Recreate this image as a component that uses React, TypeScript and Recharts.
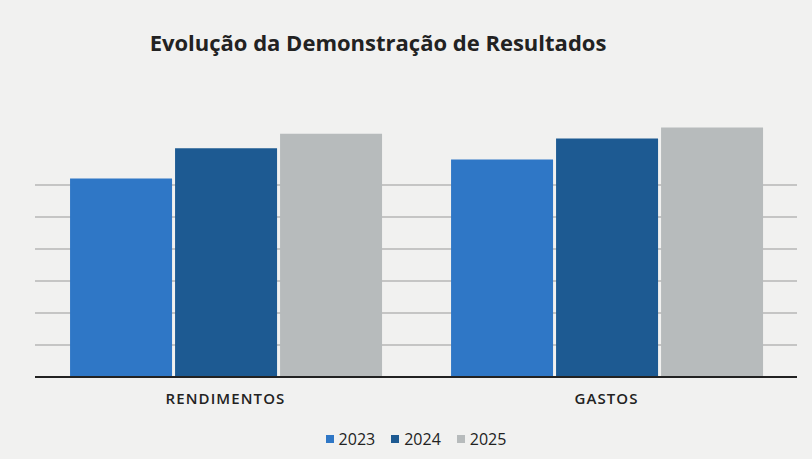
import { BarChart, Bar, XAxis, YAxis, CartesianGrid, Legend } from "recharts"

const categories = ["RENDIMENTOS", "GASTOS"]
const seriesNames = ["2023", "2024", "2025"]
const values2023 = [6.2, 6.8]
const values2024 = [7.15, 7.45]
const values2025 = [7.6, 7.8]
const gridTicks = [0, 1, 2, 3, 4, 5, 6]

const colors = ["#2f77c6", "#1d5a92", "#b7bbbc"]

const data = categories.map((name, i) => ({
  name,
  "2023": values2023[i],
  "2024": values2024[i],
  "2025": values2025[i],
}))

// legend drawn by hand so the spacing matches the scan
const renderLegend = () => (
  <div style={{ display: "flex", justifyContent: "center", alignItems: "center", gap: 16, fontSize: 16, color: "#222" }}>
    {seriesNames.map((s, i) => (
      <span key={s} style={{ display: "flex", alignItems: "center", gap: 5 }}>
        <span style={{ width: 8, height: 8, background: colors[i], display: "inline-block" }} />
        {s}
      </span>
    ))}
  </div>
)

export default function App() {
  return (
    <div style={{ position: "relative", width: 812, height: 459, background: "#f1f1f0", fontFamily: "'Open Sans', sans-serif" }}>
      <style>{"body{margin:0}"}</style>
      <div
        style={{
          position: "absolute",
          top: 27,
          left: 148,
          width: 460,
          textAlign: "center",
          fontSize: 22,
          fontWeight: 700,
          color: "#222",
          whiteSpace: "nowrap",
        }}
      >
        Evolução da Demonstração de Resultados
      </div>
      <BarChart
        width={812}
        height={459}
        data={data}
        margin={{ top: 121, right: 15, left: 35, bottom: 30 }}
        barCategoryGap="9.2%"
        barGap={3}
      >
        <CartesianGrid vertical={false} stroke="#999" horizontalValues={gridTicks} />
        <YAxis hide domain={[0, 8]} ticks={gridTicks} width={0} />
        <XAxis
          dataKey="name"
          axisLine={{ stroke: "#222", strokeWidth: 2 }}
          tickLine={false}
          tickMargin={10}
          tick={{ fontSize: 15, fontWeight: 600, fill: "#222", letterSpacing: 1.1 }}
        />
        <Legend
          verticalAlign="bottom"
          content={renderLegend}
          wrapperStyle={{ bottom: 9, left: 10, width: 812 }}
        />
        {seriesNames.map((s, i) => (
          <Bar key={s} dataKey={s} fill={colors[i]} isAnimationActive={false} />
        ))}
      </BarChart>
    </div>
  )
}
